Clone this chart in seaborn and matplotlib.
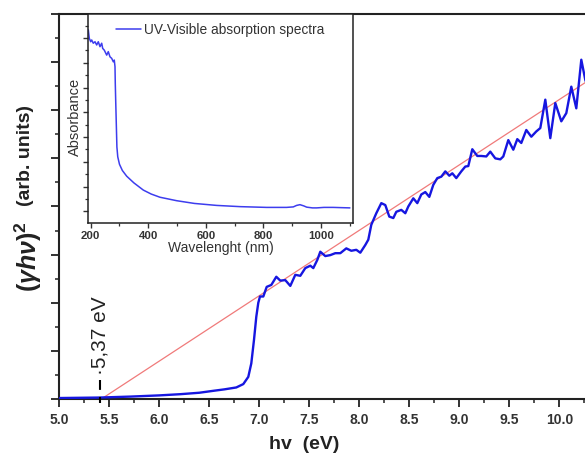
import matplotlib
matplotlib.use("Agg")
import matplotlib.pyplot as plt
from matplotlib.ticker import MultipleLocator, FormatStrFormatter, NullFormatter
import seaborn as sns
import numpy as np

# ---------------- data ----------------
# main panel: (gamma h nu)^2 vs photon energy
energy_ev = [5.0, 5.4, 5.71, 6.0, 6.21, 6.4, 6.54, 6.65, 6.77, 6.84, 6.89, 6.92, 6.947, 6.97, 6.99,
             7.007, 7.04, 7.074, 7.12, 7.17, 7.21, 7.26, 7.31, 7.36, 7.41, 7.46, 7.51, 7.54,
             7.58, 7.61, 7.66, 7.71, 7.76, 7.81, 7.87, 7.92, 7.97, 8.01, 8.06, 8.09, 8.12,
             8.17, 8.22, 8.26, 8.30, 8.34, 8.37, 8.42, 8.46, 8.49, 8.54, 8.58, 8.62, 8.66,
             8.70, 8.74, 8.78, 8.82, 8.86, 8.90, 8.93, 8.97, 9.02, 9.06, 9.09, 9.13, 9.18,
             9.22, 9.27, 9.31, 9.36, 9.41, 9.44, 9.49, 9.54, 9.58, 9.62, 9.67, 9.72, 9.77,
             9.81, 9.86, 9.91, 9.96, 10.02, 10.07, 10.12, 10.17, 10.22, 10.26, 10.30]
tauc_signal = [0.02, 0.03, 0.05, 0.075, 0.10, 0.13, 0.17, 0.20, 0.24, 0.31, 0.46, 0.74, 1.23, 1.71, 2.0,
               2.13, 2.13, 2.33, 2.37, 2.54, 2.46, 2.47, 2.35, 2.58, 2.56, 2.72, 2.77, 2.72,
               2.89, 3.06, 2.97, 2.99, 3.03, 3.03, 3.13, 3.08, 3.10, 3.04, 3.20, 3.31, 3.62,
               3.86, 4.07, 4.03, 3.79, 3.76, 3.89, 3.93, 3.86, 4.00, 4.17, 4.07, 4.25, 4.30,
               4.20, 4.45, 4.59, 4.62, 4.73, 4.64, 4.69, 4.59, 4.73, 4.83, 4.84, 5.19, 5.05,
               5.05, 5.04, 5.14, 5.00, 4.98, 5.04, 5.38, 5.18, 5.40, 5.32, 5.59, 5.45, 5.56,
               5.63, 6.22, 5.42, 6.15, 5.77, 5.94, 6.49, 6.04, 7.05, 6.63, 6.40]

# linear fit (Tauc extrapolation)
fit_energy = [5.42, 10.30]
fit_signal = [0.0, 6.63]

gap_energy = 5.41
gap_label = "\u00b75,37 eV"

main_xticks = [5.0, 5.5, 6.0, 6.5, 7.0, 7.5, 8.0, 8.5, 9.0, 9.5, 10.0]

# inset: UV-Visible absorption spectrum
wavelength_nm = [191.7, 195.1, 200, 203.5, 209, 215, 220.8, 226.4, 232.3, 238.2, 241.7, 247.2,
                 255.6, 261.1, 267, 272.9, 278.5, 281.9, 284.4, 285.4, 286.8, 289, 291, 294,
                 300, 310, 325, 350, 382.6, 410, 440.6, 498.6, 560, 637.5, 720, 811, 880,
                 903.5, 915, 926.7, 940, 950, 970, 984.7, 1010, 1042, 1070, 1100]
absorbance = [0.733, 0.699, 0.685, 0.692, 0.679, 0.685, 0.672, 0.685, 0.665, 0.679, 0.658, 0.651,
              0.631, 0.645, 0.624, 0.618, 0.604, 0.611, 0.584, 0.516, 0.449, 0.35, 0.26, 0.22,
              0.19, 0.165, 0.142, 0.115, 0.086, 0.070, 0.057, 0.043, 0.032, 0.024, 0.019, 0.016,
              0.016, 0.018, 0.024, 0.027, 0.022, 0.017, 0.014, 0.014, 0.016, 0.016, 0.015, 0.014]
inset_xticks = [200, 400, 600, 800, 1000]

# ---------------- style ----------------
sns.set_theme(style="ticks")
plt.rcParams['font.family'] = ['Liberation Sans', 'DejaVu Sans']
plt.rcParams['mathtext.fontset'] = 'custom'
plt.rcParams['mathtext.rm'] = 'Liberation Sans:bold'
plt.rcParams['mathtext.it'] = 'Liberation Sans:italic:bold'
plt.rcParams['mathtext.bf'] = 'Liberation Sans:bold'

W, H = 585, 453
fig = plt.figure(figsize=(W / 100, H / 100), dpi=100)
fig.patch.set_facecolor('white')

# main axes (right side runs off the image)
AX_L, AX_B, AX_T = 59.3, 399, 14
ax = fig.add_axes([AX_L / W, (H - AX_B) / H, (W - AX_L) / W, (AX_B - AX_T) / H])
blue = '#1616e0'
sns.lineplot(x=energy_ev, y=tauc_signal, ax=ax, color=blue, lw=1.7, zorder=3)
sns.lineplot(x=fit_energy, y=fit_signal, ax=ax, color='#f07a7a', lw=0.9, zorder=2)

ax.set_xlim(5.0, 10.257)
ax.set_ylim(0, 8)
ax.set_xticks(main_xticks)
ax.xaxis.set_minor_locator(MultipleLocator(0.25))
ax.xaxis.set_major_formatter(FormatStrFormatter('%.1f'))
ax.yaxis.set_major_locator(MultipleLocator(1))
ax.yaxis.set_minor_locator(MultipleLocator(0.5))
ax.yaxis.set_major_formatter(NullFormatter())
ax.tick_params(axis='both', which='major', direction='out', length=6, width=1.3,
               color='#222222', labelsize=10, pad=4)
ax.tick_params(axis='both', which='minor', direction='out', length=3.2, width=1.1, color='#222222')
for lab in ax.get_xticklabels():
    lab.set_fontweight('bold')
    lab.set_color('#333333')
for side in ['left', 'bottom', 'top']:
    ax.spines[side].set_linewidth(1.5)
    ax.spines[side].set_color('#222222')
ax.spines['right'].set_visible(False)

ax.set_xlabel('hv  (eV)', fontsize=14, fontweight='bold', color='#222222')
ax.xaxis.set_label_coords((304 - AX_L) / (W - AX_L), (AX_B - 436) / (AX_B - AX_T))
ax.set_ylabel('')


def px_to_axes(px, py):
    return (px - AX_L) / (W - AX_L), (AX_B - py) / (AX_B - AX_T)


# y-axis label in two parts
ax.text(*px_to_axes(25, 155), '(arb. units)', transform=ax.transAxes, rotation=90,
        ha='center', va='center', fontsize=14, fontweight='bold', color='#222222')
ax.text(*px_to_axes(28, 257), r'$(\gamma h\nu)^2$', transform=ax.transAxes, rotation=90,
        ha='center', va='center', fontsize=18, color='#222222')

# gap marker
ax.plot([gap_energy, gap_energy], [-0.083, 0.395], color='black', lw=1.5,
        dashes=(2.9, 3.4, 4.8, 10), clip_on=False, zorder=4)
ax.text(gap_energy, 0.50, gap_label, rotation=90, ha='center', va='bottom',
        fontsize=15, color='#222222')

# inset
IN_L, IN_R, IN_B, IN_T = 88.3, 353, 222.7, 14
axi = fig.add_axes([IN_L / W, (H - IN_B) / H, (IN_R - IN_L) / W, (IN_B - IN_T) / H])
axi.set_facecolor('white')
sns.lineplot(x=wavelength_nm, y=absorbance, ax=axi, color='#3d3dee', lw=1.1,
             label='UV-Visible absorption spectra')
axi.set_xlim(191.7, 1110.8)
axi.set_ylim(-0.0458, 0.797)
axi.set_xticks(inset_xticks)
axi.xaxis.set_minor_locator(MultipleLocator(100))
axi.yaxis.set_major_locator(MultipleLocator(0.1))
axi.yaxis.set_minor_locator(MultipleLocator(0.05))
axi.yaxis.set_major_formatter(NullFormatter())
axi.tick_params(axis='both', which='major', direction='out', length=3.8, width=1.0,
                color='#333333', labelsize=8.2, pad=2.5)
axi.tick_params(axis='both', which='minor', direction='out', length=2.2, width=0.9, color='#333333')
for lab in axi.get_xticklabels():
    lab.set_fontweight('bold')
    lab.set_color('#333333')
for side in axi.spines.values():
    side.set_linewidth(1.1)
    side.set_color('#222222')
in_h = IN_B - IN_T
axi.set_xlabel('Wavelenght (nm)', fontsize=10, color='#333333')
axi.xaxis.set_label_coords(0.5, (IN_B - 241.5) / in_h)
axi.set_ylabel('Absorbance', fontsize=10.5, color='#333333')
axi.yaxis.set_label_coords((82 - IN_L) / (IN_R - IN_L), (IN_B - 117) / in_h)
axi.legend(loc='center left', bbox_to_anchor=(0.105, (IN_B - 30) / in_h), frameon=False,
           fontsize=9.9, handlelength=1.8, handletextpad=0.25, borderpad=0, borderaxespad=0,
           labelcolor='#333333')

fig.savefig('out.png', dpi=100, facecolor='white')
